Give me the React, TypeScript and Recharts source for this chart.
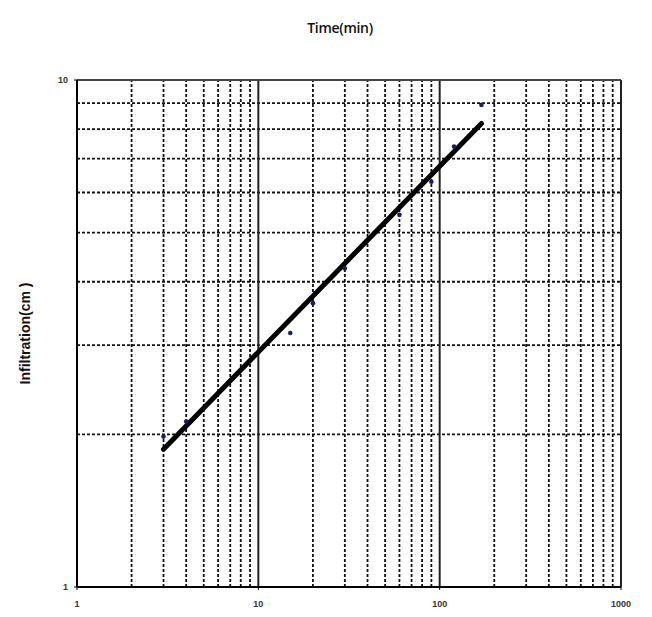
import React from 'react';
import { ComposedChart, XAxis, YAxis, Scatter, Line, ReferenceLine, Label } from 'recharts';

const timeMin = [3, 4, 15, 20, 30, 60, 90, 120, 170];
const infiltrationCm = [1.98, 2.12, 3.17, 3.63, 4.25, 5.42, 6.3, 7.39, 8.93];
const fitTime = [3, 170];
const fitInfiltration = [1.87, 8.21];
const xTicks = [1, 10, 100, 1000];
const yTicks = [1, 10];
const xMinorGrid = [2, 3, 4, 5, 6, 7, 8, 9, 20, 30, 40, 50, 60, 70, 80, 90, 200, 300, 400, 500, 600, 700, 800, 900];
const xMajorGrid = [10, 100, 1000];
const yMinorGrid = [2, 3, 4, 5, 6, 7, 8, 9];
const yMajorGrid = [10];

const observed = timeMin.map((x, i) => ({ x, y: infiltrationCm[i] }));
const fitted = fitTime.map((x, i) => ({ x, y: fitInfiltration[i] }));

const tickStyle = { fontSize: 9, fill: '#333', fontFamily: 'Liberation Sans, Arial, sans-serif', fontWeight: 700 };

export default function App() {
  return (
    <div style={{ position: 'relative', width: 644, height: 609 }}>
      <div
        style={{
          position: 'absolute',
          left: 0,
          top: 10,
          width: 664,
          textAlign: 'center',
          fontFamily: 'Open Sans, Liberation Sans, sans-serif',
          fontSize: 14,
          fontWeight: 600,
          color: '#111',
          letterSpacing: -0.3,
        }}
      >
        Time(min)
      </div>
      <ComposedChart width={644} height={609} margin={{ top: 72, right: 31, bottom: 0, left: 39 }}>
        <XAxis
          dataKey="x"
          type="number"
          scale="log"
          domain={[1, 1000]}
          ticks={xTicks}
          allowDataOverflow
          axisLine={{ stroke: '#000', strokeWidth: 2 }}
          tickLine={{ stroke: '#000' }}
          tickSize={3}
          tick={tickStyle}
          height={30}
          tickMargin={11}
        />
        <YAxis
          dataKey="y"
          type="number"
          scale="log"
          domain={[1, 10]}
          ticks={yTicks}
          allowDataOverflow
          axisLine={{ stroke: '#000', strokeWidth: 2 }}
          tickLine={{ stroke: '#000' }}
          tickSize={3}
          tick={tickStyle}
          tickMargin={6}
          width={30}
        >
          <Label
            value="Infiltration(cm )"
            angle={-90}
            position="insideLeft"
            offset={-22}
            style={{ fontSize: 14, fontWeight: 700, fill: '#111', fontFamily: 'Liberation Sans, Arial, sans-serif', textAnchor: 'middle' }}
          />
        </YAxis>
        {xMinorGrid.map((v) => (
          <ReferenceLine key={'xm' + v} x={v} stroke="#111" strokeWidth={1.8} strokeDasharray="3 2" ifOverflow="hidden" />
        ))}
        {yMinorGrid.map((v) => (
          <ReferenceLine key={'ym' + v} y={v} stroke="#111" strokeWidth={1.8} strokeDasharray="3 2" ifOverflow="hidden" />
        ))}
        {xMajorGrid.map((v) => (
          <ReferenceLine key={'xM' + v} x={v} stroke="#222" strokeWidth={2} />
        ))}
        {yMajorGrid.map((v) => (
          <ReferenceLine key={'yM' + v} y={v} stroke="#444" strokeWidth={2} />
        ))}
        <Scatter data={observed} fill="#1c1c6e" isAnimationActive={false} shape={(p: any) => <circle cx={p.cx} cy={p.cy} r={2.3} fill="#1c1c6e" />} />
        <Line data={fitted} dataKey="y" stroke="#000" strokeWidth={5} dot={false} activeDot={false} strokeLinecap="round" isAnimationActive={false} />
      </ComposedChart>
    </div>
  );
}
